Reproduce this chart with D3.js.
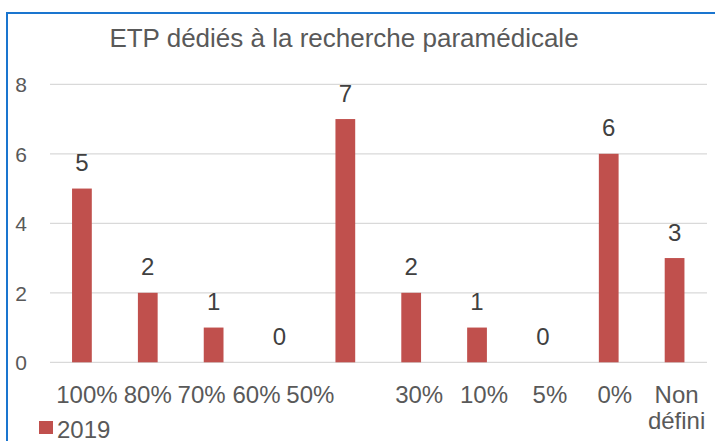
<!DOCTYPE html>
<html><head><meta charset="utf-8">
<script src="https://cdn.jsdelivr.net/npm/d3@7"></script>
<style>
html,body{margin:0;padding:0;background:#fff;overflow:hidden}
svg{display:block;font-family:'Liberation Sans',Arial,sans-serif}
</style></head>
<body><div id="chart"></div>
<script>
// data
const categories = ['100%','80%','70%','60%','50%','30%','10%','5%','0%','Non défini'];
const values2019 = [5,2,1,0,7,2,1,0,6,3];
const yTicks = [0,2,4,6,8];
const seriesName = '2019';
const title = 'ETP dédiés à la recherche paramédicale';
// category labels are not centred under their bars in the original; small nudges
const labelNudge = [5,0,-12,-23,-35,8,7,7,6,2];

const W=715,H=441, BAR='#c0504d';
const svg=d3.select('#chart').append('svg').attr('width',W).attr('height',H);

// frame (only top + left edges are in view)
svg.append('path').attr('d',`M7,${H+2}V13H${W+2}`).attr('fill','none')
  .attr('stroke','#1a75cf').attr('stroke-width',2);

svg.append('text').attr('x',344).attr('y',47).attr('text-anchor','middle')
  .attr('font-size',26).attr('fill','#595959').text(title);

const x=d3.scaleBand().domain(categories).range([49,707.5]).paddingInner(0.7).paddingOuter(0.35);
const y=d3.scaleLinear().domain([0,8]).range([362.3,84.3]);

// gridlines
svg.append('g').selectAll('line').data(yTicks).join('line')
  .attr('x1',50).attr('x2',707).attr('y1',d=>y(d)).attr('y2',d=>y(d))
  .attr('stroke','#d9d9d9').attr('stroke-width',1.3);

// y axis labels
svg.append('g').selectAll('text').data(yTicks).join('text')
  .attr('x',27).attr('y',d=>y(d)+8).attr('text-anchor','end')
  .attr('font-size',21).attr('fill','#595959').text(d=>d);

// bars
svg.append('g').selectAll('rect').data(values2019).join('rect')
  .attr('x',(d,i)=>x(categories[i])).attr('width',x.bandwidth())
  .attr('y',d=>y(d)).attr('height',d=>y(0)-y(d)).attr('fill',BAR);

// value labels
svg.append('g').selectAll('text').data(values2019).join('text')
  .attr('x',(d,i)=>x(categories[i])+x.bandwidth()/2).attr('y',d=>y(d)-17.5)
  .attr('text-anchor','middle').attr('font-size',24).attr('fill','#404040').text(d=>d);

// category labels (wrap "Non défini")
const cl=svg.append('g').selectAll('text').data(categories).join('text')
  .attr('text-anchor','middle').attr('font-size',24).attr('fill','#595959')
  .attr('transform',(d,i)=>`translate(${x(d)+x.bandwidth()/2+labelNudge[i]},403)`);
cl.each(function(d){
  const t=d3.select(this);
  if(d.includes('%')){ t.text(d); return; }
  d.split(' ').forEach((p,k)=>t.append('tspan').attr('x',0).attr('dy',k?26:0).text(p));
});

// legend (cut by the bottom edge, as in the original)
svg.append('rect').attr('x',39).attr('y',421).attr('width',14).attr('height',13).attr('fill',BAR);
svg.append('text').attr('x',57).attr('y',438).attr('font-size',24).attr('fill','#595959').text(seriesName);
</script></body></html>
